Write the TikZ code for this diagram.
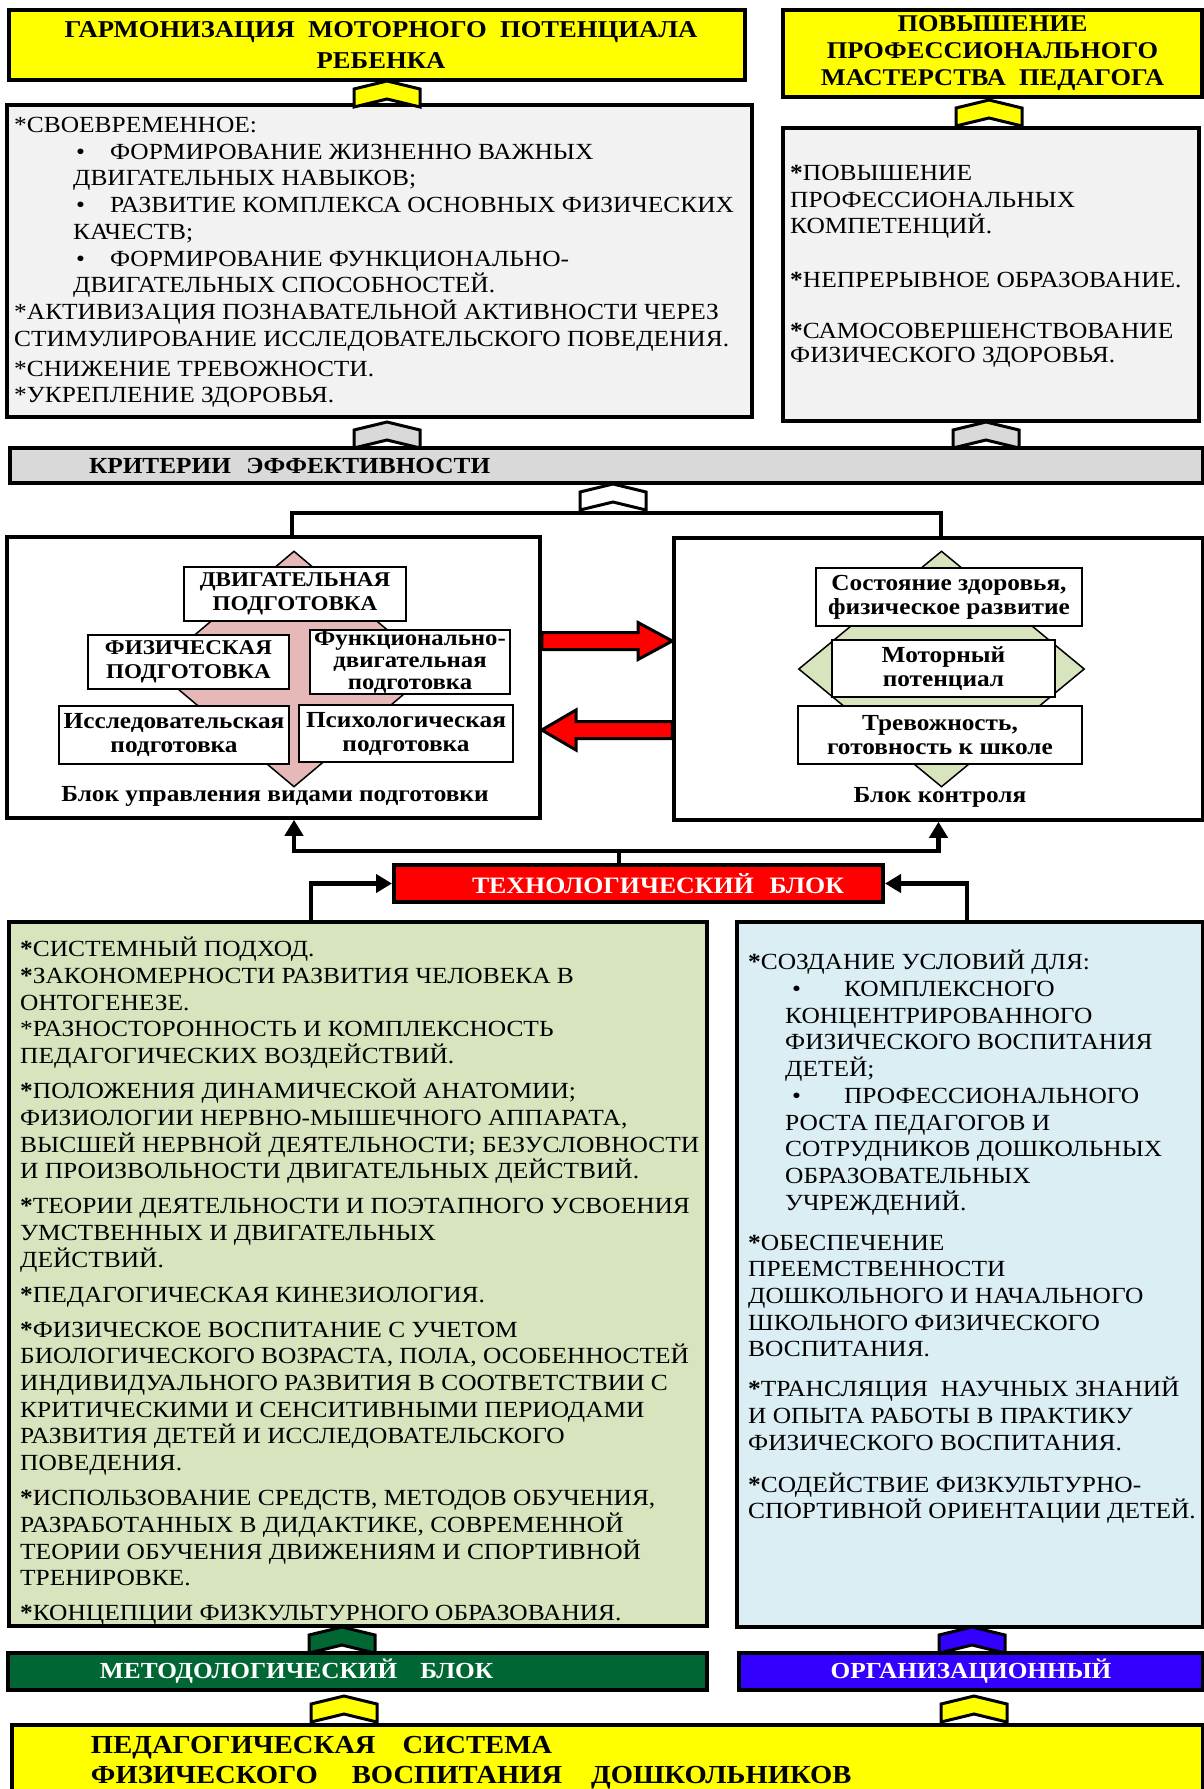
\documentclass[tikz,border=0pt]{standalone}
\usepackage{fontspec}
\setmainfont{Liberation Serif}[FakeStretch=1.1]
\usetikzlibrary{arrows.meta,shapes.geometric}

\definecolor{ylw}{HTML}{FFFF00}
\definecolor{greyfill}{HTML}{F2F2F2}
\definecolor{critgrey}{HTML}{D9D9D9}
\definecolor{pinkdia}{HTML}{E6B9B8}
\definecolor{greendia}{HTML}{D7E4BD}
\definecolor{metfill}{HTML}{D7E4BD}
\definecolor{orgfill}{HTML}{DBEEF4}
\definecolor{darkgreen}{HTML}{006633}
\definecolor{brightblue}{HTML}{3300FF}

\tikzset{
  box/.style={draw, line width=3.5pt, inner sep=0pt},
  bodytxt/.style={align=left, inner sep=0pt, anchor=north west, font=\fontsize{23.1}{26.7}\selectfont},
  smallbox/.style={draw, line width=2pt, fill=white, align=center, inner sep=0pt, font=\bfseries\fontsize{23}{24}\selectfont},
  capsbox/.style={smallbox, font=\bfseries\fontsize{21}{24}\selectfont},
  blocklabel/.style={inner sep=0pt, font=\bfseries\fontsize{23}{24}\selectfont},
  bartxt/.style={text=white, font=\bfseries\fontsize{23}{26}\selectfont},
  link/.style={line width=4.5pt},
  tip/.style={-{Triangle[length=16pt,width=18pt]}},
  redarr/.style={draw, line width=3pt, fill=red, line join=miter},
  pics/chevup/.style={code={
    \draw[line width=3pt, line join=miter, fill=#1] (-33,13) -- (-33,-5) -- (0,-13) -- (33,-5) -- (33,13) -- (0,5) -- cycle;
  }}
}

\begin{document}
\begin{tikzpicture}[x=1pt,y=-1pt]
\useasboundingbox (0,0) rectangle (1204,1789);

% goals
\node[box, fill=ylw, minimum width=736pt, minimum height=70pt, align=center, font=\bfseries\fontsize{24.2}{31}\selectfont] (harm) at (377,45) {\hspace*{8pt}ГАРМОНИЗАЦИЯ\ \ МОТОРНОГО\ \ ПОТЕНЦИАЛА\\\hspace*{8pt}РЕБЕНКА};
\node[box, fill=ylw, minimum width=419pt, minimum height=87pt, align=center, font=\bfseries\fontsize{24}{27}\selectfont] (mastery) at (992.5,53.5) {ПОВЫШЕНИЕ\\ПРОФЕССИОНАЛЬНОГО\\МАСТЕРСТВА\ \ ПЕДАГОГА};

\node[box, fill=greyfill, minimum width=745pt, minimum height=312pt] (goals) at (379.5,261) {};
\node[bodytxt] (goals-t) at (14,117) {*СВОЕВРЕМЕННОЕ:\\
\hspace*{62pt}•\hspace*{25pt}ФОРМИРОВАНИЕ ЖИЗНЕННО ВАЖНЫХ\\
\hspace*{59pt}ДВИГАТЕЛЬНЫХ НАВЫКОВ;\\
\hspace*{62pt}•\hspace*{25pt}РАЗВИТИЕ КОМПЛЕКСА ОСНОВНЫХ ФИЗИЧЕСКИХ\\
\hspace*{59pt}КАЧЕСТВ;\\
\hspace*{62pt}•\hspace*{25pt}ФОРМИРОВАНИЕ ФУНКЦИОНАЛЬНО-\\
\hspace*{59pt}ДВИГАТЕЛЬНЫХ СПОСОБНОСТЕЙ.\\
*АКТИВИЗАЦИЯ ПОЗНАВАТЕЛЬНОЙ АКТИВНОСТИ ЧЕРЕЗ\\
СТИМУЛИРОВАНИЕ ИССЛЕДОВАТЕЛЬСКОГО ПОВЕДЕНИЯ.\\[3.3pt]
*СНИЖЕНИЕ ТРЕВОЖНОСТИ.\\
*УКРЕПЛЕНИЕ ЗДОРОВЬЯ.};

\node[box, fill=greyfill, minimum width=416pt, minimum height=293pt] (selfdev) at (991,274.5) {};
\node[bodytxt] (selfdev-t) at (790,165) {\textbf{*}ПОВЫШЕНИЕ\\
ПРОФЕССИОНАЛЬНЫХ\\
КОМПЕТЕНЦИЙ.\\[26.7pt]
\textbf{*}НЕПРЕРЫВНОЕ ОБРАЗОВАНИЕ.\\[24pt]
\textbf{*}САМОСОВЕРШЕНСТВОВАНИЕ\\[-2pt]
ФИЗИЧЕСКОГО ЗДОРОВЬЯ.};

\pic at (387,94) {chevup=ylw};
\pic at (989,113) {chevup=ylw};
\pic at (387,435) {chevup=critgrey};
\pic at (986,435) {chevup=critgrey};

% criteria
\node[box, fill=critgrey, minimum width=1193pt, minimum height=35pt, text width=1193pt, align=left, font=\bfseries\fontsize{23}{26}\selectfont] (crit) at (606.5,465.5) {\hspace*{79pt}КРИТЕРИИ\ \ ЭФФЕКТИВНОСТИ};

% training block
\node[box, fill=white, minimum width=533pt, minimum height=281pt] (lblock) at (273.5,677.5) {};
\node[diamond, draw, line width=1.5pt, fill=pinkdia, minimum width=280pt, minimum height=236pt, inner sep=0pt] (ldia) at (294,669) {};
\node[capsbox, minimum width=222pt, minimum height=54pt] (dvig) at (295,594) {ДВИГАТЕЛЬНАЯ\\ПОДГОТОВКА};
\node[capsbox, minimum width=201pt, minimum height=54pt] (fiz) at (188.5,662) {ФИЗИЧЕСКАЯ\\ПОДГОТОВКА};
\node[smallbox, minimum width=200pt, minimum height=64pt, font=\bfseries\fontsize{22.5}{22}\selectfont] (func) at (410,662) {Функционально-\\двигательная\\подготовка};
\node[smallbox, minimum width=230pt, minimum height=58pt] (issl) at (174,735) {Исследовательская\\подготовка};
\node[smallbox, minimum width=214pt, minimum height=57pt] (psych) at (406,733.5) {Психологическая\\подготовка};
\node[blocklabel] (lblock-l) at (275,796) {Блок управления видами подготовки};

% control block
\node[box, fill=white, minimum width=529pt, minimum height=282pt] (rblock) at (938.5,679) {};
\node[diamond, draw, line width=1.5pt, fill=greendia, minimum width=286pt, minimum height=236pt, inner sep=0pt] (rdia) at (941.5,669) {};
\node[smallbox, minimum width=266pt, minimum height=58pt] (health) at (949,597) {Состояние здоровья,\\физическое развитие};
\node[smallbox, minimum width=223pt, minimum height=57pt] (motor) at (943.5,668.5) {Моторный\\потенциал};
\node[smallbox, minimum width=284pt, minimum height=58pt] (anx) at (940,735) {Тревожность,\\готовность к школе};
\node[blocklabel] (rblock-l) at (940,797) {Блок контроля};

\draw[redarr] (lblock.east |- 0,632.5) -- (638,632.5) -- (638,622.5) -- (rblock.west |- 0,641) -- (638,659.5) -- (638,649.5) -- (lblock.east |- 0,649.5) -- cycle;
\draw[redarr] (rblock.west |- 0,721.5) -- (576,721.5) -- (576,710) -- (lblock.east |- 0,730) -- (576,750) -- (576,738.5) -- (rblock.west |- 0,738.5) -- cycle;

\coordinate (crithub) at (613,513);
\draw[link] ([xshift=18.5pt]lblock.north) |- (crithub) -| ([xshift=2.5pt]rblock.north);
\pic at (613,497) {chevup=white};

% technology
\node[box, line width=4pt, fill=red, minimum width=489pt, minimum height=37pt, text width=489pt, align=left, bartxt, font=\bfseries\fontsize{23.5}{26}\selectfont] (tech) at (638.5,883.5) {\hspace*{78pt}ТЕХНОЛОГИЧЕСКИЙ\ \ БЛОК};
\coordinate (techhub) at (619,851);
\draw[link] ([xshift=-19.5pt]tech.north) -- (techhub);
\draw[link, tip] (techhub) -| ([xshift=20.5pt]lblock.south);
\draw[link, tip] (techhub) -| (rblock.south);

% methodology
\node[box, fill=metfill, minimum width=698pt, minimum height=704pt] (mtext) at (358,1274) {};
\node[bodytxt] (mtext-t) at (20,937) {\textbf{*}СИСТЕМНЫЙ ПОДХОД.\\
\textbf{*}ЗАКОНОМЕРНОСТИ РАЗВИТИЯ ЧЕЛОВЕКА В\\
ОНТОГЕНЕЗЕ.\\
*РАЗНОСТОРОННОСТЬ И КОМПЛЕКСНОСТЬ\\
ПЕДАГОГИЧЕСКИХ ВОЗДЕЙСТВИЙ.\\[8.3pt]
\textbf{*}ПОЛОЖЕНИЯ ДИНАМИЧЕСКОЙ АНАТОМИИ;\\
ФИЗИОЛОГИИ НЕРВНО-МЫШЕЧНОГО АППАРАТА,\\
ВЫСШЕЙ НЕРВНОЙ ДЕЯТЕЛЬНОСТИ; БЕЗУСЛОВНОСТИ\\
И ПРОИЗВОЛЬНОСТИ ДВИГАТЕЛЬНЫХ ДЕЙСТВИЙ.\\[8.3pt]
\textbf{*}ТЕОРИИ ДЕЯТЕЛЬНОСТИ И ПОЭТАПНОГО УСВОЕНИЯ\\
УМСТВЕННЫХ И ДВИГАТЕЛЬНЫХ\\
ДЕЙСТВИЙ.\\[8.3pt]
\textbf{*}ПЕДАГОГИЧЕСКАЯ КИНЕЗИОЛОГИЯ.\\[8.3pt]
\textbf{*}ФИЗИЧЕСКОЕ ВОСПИТАНИЕ С УЧЕТОМ\\
БИОЛОГИЧЕСКОГО ВОЗРАСТА, ПОЛА, ОСОБЕННОСТЕЙ\\
ИНДИВИДУАЛЬНОГО РАЗВИТИЯ В СООТВЕТСТВИИ С\\
КРИТИЧЕСКИМИ И СЕНСИТИВНЫМИ ПЕРИОДАМИ\\
РАЗВИТИЯ ДЕТЕЙ И ИССЛЕДОВАТЕЛЬСКОГО\\
ПОВЕДЕНИЯ.\\[8.3pt]
\textbf{*}ИСПОЛЬЗОВАНИЕ СРЕДСТВ, МЕТОДОВ ОБУЧЕНИЯ,\\
РАЗРАБОТАННЫХ В ДИДАКТИКЕ, СОВРЕМЕННОЙ\\
ТЕОРИИ ОБУЧЕНИЯ ДВИЖЕНИЯМ И СПОРТИВНОЙ\\
ТРЕНИРОВКЕ.\\[8.3pt]
\textbf{*}КОНЦЕПЦИИ ФИЗКУЛЬТУРНОГО ОБРАЗОВАНИЯ.};

% organisation
\node[box, fill=orgfill, minimum width=466pt, minimum height=705pt] (otext) at (970,1274.5) {};
\node[bodytxt] (otext-t) at (748,950) {\textbf{*}СОЗДАНИЕ УСЛОВИЙ ДЛЯ:\\
\hspace*{44pt}•\hspace*{43pt}КОМПЛЕКСНОГО\\
\hspace*{37pt}КОНЦЕНТРИРОВАННОГО\\
\hspace*{37pt}ФИЗИЧЕСКОГО ВОСПИТАНИЯ\\
\hspace*{37pt}ДЕТЕЙ;\\
\hspace*{44pt}•\hspace*{43pt}ПРОФЕССИОНАЛЬНОГО\\
\hspace*{37pt}РОСТА ПЕДАГОГОВ И\\
\hspace*{37pt}СОТРУДНИКОВ ДОШКОЛЬНЫХ\\
\hspace*{37pt}ОБРАЗОВАТЕЛЬНЫХ\\
\hspace*{37pt}УЧРЕЖДЕНИЙ.\\[13.3pt]
\textbf{*}ОБЕСПЕЧЕНИЕ\\
ПРЕЕМСТВЕННОСТИ\\
ДОШКОЛЬНОГО И НАЧАЛЬНОГО\\
ШКОЛЬНОГО ФИЗИЧЕСКОГО\\
ВОСПИТАНИЯ.\\[13.3pt]
\textbf{*}ТРАНСЛЯЦИЯ\ \ НАУЧНЫХ ЗНАНИЙ\\
И ОПЫТА РАБОТЫ В ПРАКТИКУ\\
ФИЗИЧЕСКОГО ВОСПИТАНИЯ.\\[15pt]
\textbf{*}СОДЕЙСТВИЕ ФИЗКУЛЬТУРНО-\\
СПОРТИВНОЙ ОРИЕНТАЦИИ ДЕТЕЙ.};

\draw[link, tip] ([xshift=-47pt]mtext.north) |- (tech.west);
\draw[link, tip] ([xshift=-3pt]otext.north) |- (tech.east);

\pic at (342,1640) {chevup=darkgreen};
\pic at (972,1640) {chevup=brightblue};

% bars
\node[box, fill=darkgreen, minimum width=699pt, minimum height=37pt, text width=699pt, align=left, bartxt] (metbar) at (357.5,1671.5) {\hspace*{92pt}МЕТОДОЛОГИЧЕСКИЙ\ \ \ БЛОК};
\node[box, fill=brightblue, minimum width=464pt, minimum height=37pt, bartxt] (orgbar) at (971,1671.5) {ОРГАНИЗАЦИОННЫЙ};

\pic at (344,1709) {chevup=ylw};
\pic at (974,1709) {chevup=ylw};

\node[box, fill=ylw, minimum width=1191pt, minimum height=75pt, text width=1191pt, align=left, font=\bfseries\fontsize{26}{30}\selectfont] (system) at (607.5,1762.5) {\hspace*{79pt}ПЕДАГОГИЧЕСКАЯ\hspace{27pt}СИСТЕМА\\\hspace*{79pt}ФИЗИЧЕСКОГО\hspace{34pt}ВОСПИТАНИЯ\hspace{29pt}ДОШКОЛЬНИКОВ};
\end{tikzpicture}
\end{document}
